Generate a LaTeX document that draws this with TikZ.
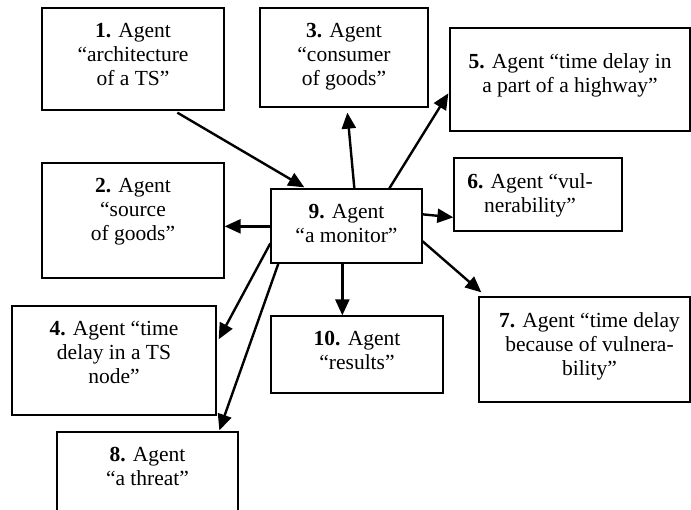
\documentclass[tikz,border=0pt]{standalone}
\usepackage{fontspec}
\setmainfont{Liberation Serif}
\usetikzlibrary{arrows.meta}
\begin{document}
\begin{tikzpicture}[x=1pt,y=-1pt,
  box/.style={draw=black,line width=1.3pt,inner sep=0pt,rectangle},
  txt/.style={inner sep=0pt,align=center,anchor=north,font=\fontsize{21.5}{24}\selectfont},
  arr/.style={line width=2.4pt,-{Triangle[length=16pt,width=14pt]}}]
\useasboundingbox (0,0) rectangle (691,510);
% boxes
\node[box,minimum width=182pt,minimum height=102pt] (n1) at (133,59) {};
\node[box,minimum width=168pt,minimum height=99pt] (n3) at (344,57.5) {};
\node[box,minimum width=240pt,minimum height=103pt] (n5) at (570,79.5) {};
\node[box,minimum width=182pt,minimum height=115pt] (n2) at (133,220.5) {};
\node[box,minimum width=151pt,minimum height=74pt] (n9) at (346.5,226) {};
\node[box,minimum width=168pt,minimum height=73pt] (n6) at (538,194.5) {};
\node[box,minimum width=204pt,minimum height=109pt] (n4) at (114,360.5) {};
\node[box,minimum width=172pt,minimum height=77pt] (n10) at (357,354.5) {};
\node[box,minimum width=211pt,minimum height=105pt] (n7) at (584.5,349.5) {};
\node[box,minimum width=181pt,minimum height=88pt] (n8) at (147.5,476) {};
% texts
\node[txt] (t1) at ([yshift=-16pt]n1.north) {\textbf{1.} Agent\\“architecture\\of a TS”};
\node[txt] (t3) at ([yshift=-16pt]n3.north) {\textbf{3.} Agent\\“consumer\\of goods”};
\node[txt] (t5) at ([yshift=-26pt]n5.north) {\textbf{5.} Agent “time delay in\\a part of a highway”};
\node[txt] (t2) at ([yshift=-16pt]n2.north) {\textbf{2.} Agent\\“source\\of goods”};
\node[txt] (t9) at ([yshift=-16pt]n9.north) {\textbf{9.} Agent\\“a monitor”};
\node[txt] (t6) at ([yshift=-16pt,xshift=-8pt]n6.north) {\textbf{6.} Agent “vul-\\nerability”};
\node[txt] (t4) at ([yshift=-16pt]n4.north) {\textbf{4.} Agent “time\\delay in a TS\\node”};
\node[txt] (t10) at ([yshift=-16pt]n10.north) {\textbf{10.} Agent\\“results”};
\node[txt] (t7) at ([yshift=-16pt,xshift=5pt]n7.north) {\textbf{7.} Agent “time delay\\because of vulnera-\\bility”};
\node[txt] (t8) at ([yshift=-16pt]n8.north) {\textbf{8.} Agent\\“a threat”};
% arrows
\draw[arr] ([shift={(136,2)}]n1.south west) -- ([shift={(34,-1)}]n9.north west);
\draw[arr] ([shift={(84,0)}]n9.north west) -- ([shift={(88,5)}]n3.south west);
\draw[arr] ([shift={(119,0)}]n9.north west) -- ([shift={(-1,66)}]n5.north west);
\draw[arr] ([shift={(0,26)}]n9.north east) -- ([shift={(0,60)}]n6.north west);
\draw[arr] ([shift={(0,38)}]n9.north west) -- ([shift={(0,64)}]n2.north east);
\draw[arr] ([shift={(0,55)}]n9.north west) -- ([shift={(2,34)}]n4.north east);
\draw[arr] ([shift={(8,0)}]n9.south west) -- ([shift={(163,-1)}]n8.north west);
\draw[arr] ([shift={(72,0)}]n9.south west) -- ([shift={(72,0)}]n10.north west);
\draw[arr] ([shift={(0,53)}]n9.north east) -- ([shift={(3,-4)}]n7.north west);
\end{tikzpicture}
\end{document}
